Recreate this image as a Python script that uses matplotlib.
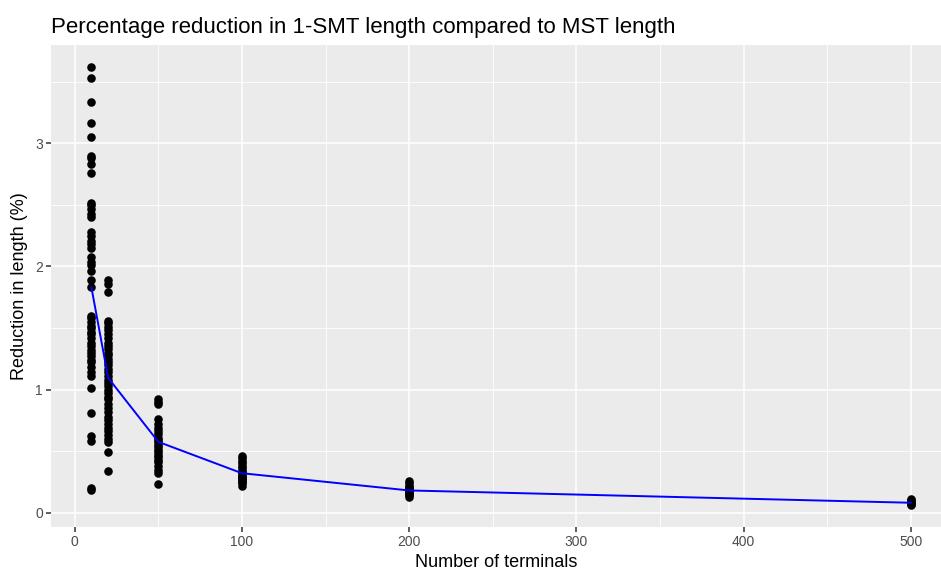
import numpy as np
import matplotlib.pyplot as plt
from matplotlib.ticker import MultipleLocator

plt.rcParams['font.family'] = ['Liberation Sans', 'DejaVu Sans']

# reduction (%) for each number of terminals
red_10 = [3.62, 3.53, 3.34, 3.17, 3.05, 2.90, 2.88, 2.83, 2.76, 2.52, 2.50, 2.47,
          2.43, 2.40, 2.28, 2.25, 2.21, 2.18, 2.15, 2.08, 2.04, 2.01, 1.96, 1.89,
          1.83, 1.60, 1.58, 1.55, 1.52, 1.50, 1.47, 1.45, 1.42, 1.38, 1.35, 1.32,
          1.30, 1.27, 1.24, 1.22, 1.18, 1.14, 1.11, 1.01, 0.81, 0.62, 0.58, 0.20, 0.18]
red_20 = [1.89, 1.86, 1.79, 1.56, 1.54, 1.51, 1.48, 1.45, 1.42, 1.38, 1.35, 1.33,
          1.30, 1.28, 1.25, 1.22, 1.20, 1.17, 1.14, 1.11, 1.08, 1.05, 1.03, 1.00,
          0.97, 0.94, 0.92, 0.88, 0.85, 0.82, 0.78, 0.75, 0.72, 0.69, 0.66, 0.63,
          0.60, 0.57, 0.49, 0.34]
red_50 = [0.92, 0.90, 0.88, 0.76, 0.72, 0.69, 0.66, 0.64, 0.61, 0.59, 0.57, 0.55,
          0.53, 0.51, 0.49, 0.47, 0.45, 0.43, 0.41, 0.38, 0.35, 0.32, 0.23]
red_100 = [0.46, 0.44, 0.42, 0.40, 0.38, 0.36, 0.34, 0.33, 0.31, 0.30, 0.29, 0.28,
           0.27, 0.26, 0.25, 0.24, 0.22]
red_200 = [0.26, 0.24, 0.22, 0.21, 0.20, 0.19, 0.18, 0.17, 0.16, 0.15, 0.14, 0.13]
red_500 = [0.11, 0.10, 0.09, 0.08, 0.07, 0.06]

terminals = [10, 20, 50, 100, 200, 500]
groups = [red_10, red_20, red_50, red_100, red_200, red_500]
mean_red = [1.83, 1.095, 0.575, 0.32, 0.18, 0.08]

fig = plt.figure(figsize=(9.41, 5.70), dpi=100)
ax = fig.add_axes([50.7/941, 1 - 527/570, 1 - 50.7/941, (527 - 45)/570])
ax.set_facecolor('#EBEBEB')
for s in ax.spines.values():
    s.set_visible(False)

for n, vals in zip(terminals, groups):
    ax.scatter([n] * len(vals), vals, s=38, color='black', zorder=3, linewidths=0)
ax.plot(terminals, mean_red, color='blue', lw=1.4, zorder=4)

ax.set_xlim(-14.35, 518)
ax.set_ylim(-0.117, 3.80)
ax.xaxis.set_major_locator(MultipleLocator(100))
ax.xaxis.set_minor_locator(MultipleLocator(50))
ax.yaxis.set_major_locator(MultipleLocator(1))
ax.yaxis.set_minor_locator(MultipleLocator(0.5))
ax.grid(which='major', color='white', lw=1.1)
ax.grid(which='minor', color='white', lw=0.6)
ax.set_axisbelow(True)
ax.tick_params(which='major', length=3.5, width=1.1, color='#333333',
               labelsize=10, labelcolor='#4D4D4D', pad=2)
ax.tick_params(which='minor', length=0)

ax.set_title('Percentage reduction in 1-SMT length compared to MST length',
             loc='left', fontsize=16, pad=9)
ax.set_xlabel('Number of terminals', fontsize=13, labelpad=4)
ax.set_ylabel('Reduction in length (%)', fontsize=13, labelpad=5)

fig.savefig('out.png', dpi=100)
